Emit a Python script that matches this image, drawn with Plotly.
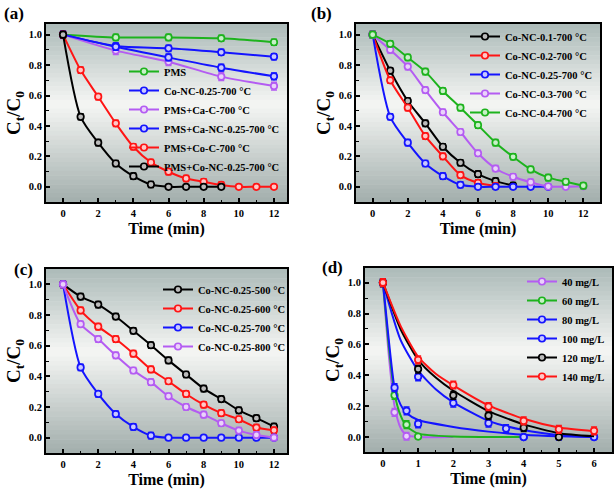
import plotly.graph_objects as go

# ---------------- data ----------------
# (a)
a_x5 = [0, 3, 6, 9, 12]
a_pms = [1.0, 0.982, 0.982, 0.976, 0.95]
a_conc = [1.0, 0.925, 0.91, 0.884, 0.855]
a_cac = [1.0, 0.895, 0.822, 0.724, 0.662]
a_canc = [1.0, 0.92, 0.85, 0.783, 0.726]
a_x13 = [0, 1, 2, 3, 4, 5, 6, 7, 8, 9, 10, 11, 12]
a_coc = [1.0, 0.767, 0.592, 0.417, 0.263, 0.16, 0.099, 0.055, 0.033, 0.012, 0.0, 0.0, 0.0]
a_x10 = [0, 1, 2, 3, 4, 5, 6, 7, 8, 9]
a_pconc = [1.0, 0.46, 0.29, 0.153, 0.07, 0.015, 0.0, 0.0, 0.0, 0.0]
a_names = ["PMS", "Co-NC-0.25-700 °C", "PMS+Ca-C-700 °C", "PMS+Ca-NC-0.25-700 °C",
           "PMS+Co-C-700 °C", "PMS+Co-NC-0.25-700 °C"]

# (b)
b_x = [0, 1, 2, 3, 4, 5, 6, 7, 8, 9, 10, 11, 12]
b_01 = [1.0, 0.763, 0.564, 0.417, 0.263, 0.158, 0.083, 0.037, 0.008]
b_02 = [1.0, 0.70, 0.52, 0.333, 0.20, 0.077, 0.026, 0.005]
b_025 = [1.0, 0.46, 0.29, 0.153, 0.07, 0.013, 0.0, 0.0, 0.0, 0.0, 0.0]
b_03 = [1.0, 0.90, 0.79, 0.636, 0.49, 0.36, 0.22, 0.12, 0.066, 0.03, 0.002, 0.0, 0.003]
b_04 = [1.0, 0.94, 0.85, 0.757, 0.63, 0.52, 0.405, 0.29, 0.197, 0.114, 0.06, 0.033, 0.007]
b_names = ["Co-NC-0.1-700 °C", "Co-NC-0.2-700 °C", "Co-NC-0.25-700 °C",
           "Co-NC-0.3-700 °C", "Co-NC-0.4-700 °C"]

# (c)
c_x = [0, 1, 2, 3, 4, 5, 6, 7, 8, 9, 10, 11, 12]
c_500 = [1.0, 0.92, 0.868, 0.79, 0.697, 0.603, 0.504, 0.412, 0.32, 0.252, 0.178, 0.127, 0.072]
c_600 = [1.0, 0.83, 0.724, 0.643, 0.548, 0.445, 0.368, 0.285, 0.215, 0.16, 0.12, 0.066, 0.048]
c_700 = [1.0, 0.458, 0.285, 0.154, 0.07, 0.013, 0.0, 0.0, 0.0, 0.0, 0.0, 0.0, 0.0]
c_800 = [1.0, 0.74, 0.643, 0.537, 0.438, 0.362, 0.27, 0.20, 0.15, 0.094, 0.046, 0.018, 0.0]
c_names = ["Co-NC-0.25-500 °C", "Co-NC-0.25-600 °C", "Co-NC-0.25-700 °C", "Co-NC-0.25-800 °C"]

# (d) measured points
d40_x = [0, 0.33, 0.67]
d40_y = [1.0, 0.16, 0.005]
d60_x = [0, 0.33, 0.67, 1.0]
d60_y = [1.0, 0.27, 0.08, 0.003]
d80_x = [0, 0.33, 0.67, 1.0, 4, 6]
d80_y = [1.0, 0.32, 0.17, 0.085, 0.0, 0.0]
d100_x = [0, 1, 2, 3, 3.5, 4, 5, 6]
d100_y = [1.0, 0.39, 0.22, 0.09, 0.055, 0.0, 0.005, 0.0]
d120_x = [0, 1, 2, 3, 4, 5]
d120_y = [1.0, 0.44, 0.27, 0.138, 0.06, 0.0]
d140_x = [0, 1, 2, 3, 4, 5, 6]
d140_y = [1.0, 0.50, 0.337, 0.197, 0.104, 0.05, 0.04]
# (d) fitted curves
f40_x = [0, 0.17, 0.33, 0.5, 0.67, 1.0, 2.0]
f40_y = [1.0, 0.52, 0.20, 0.06, 0.012, 0.0, 0.0]
f60_x = [0, 0.17, 0.33, 0.5, 0.67, 1.0, 2.0, 4.0]
f60_y = [1.0, 0.58, 0.28, 0.14, 0.07, 0.022, 0.003, 0.0]
f80_x = [0, 0.17, 0.33, 0.5, 0.67, 1.0, 2.0, 3.0, 4.0, 5.0, 6.0]
f80_y = [1.0, 0.62, 0.32, 0.21, 0.155, 0.11, 0.065, 0.035, 0.015, 0.005, 0.0]
f100_x = [0, 0.5, 1, 1.5, 2, 3, 4, 5, 6]
f100_y = [1.0, 0.63, 0.43, 0.31, 0.225, 0.105, 0.045, 0.012, 0.0]
f120_x = [0, 0.5, 1, 1.5, 2, 3, 4, 5, 6]
f120_y = [1.0, 0.70, 0.50, 0.385, 0.30, 0.168, 0.082, 0.025, 0.005]
f140_x = [0, 0.5, 1, 1.5, 2, 3, 4, 5, 6]
f140_y = [1.0, 0.72, 0.52, 0.41, 0.335, 0.205, 0.118, 0.062, 0.038]
d_names = ["40 mg/L", "60 mg/L", "80 mg/L", "100 mg/L", "120 mg/L", "140 mg/L"]

# ---------------- styles ----------------
GREEN = "#1db31d"
BLUE = "#1414ff"
VIOLET = "#b45cf2"
RED = "#ff1414"
BLACK = "#000000"
FILL = {GREEN: "#c8f0c8", BLUE: "#c8c8ff", VIOLET: "#ead2fb", RED: "#ffc8c8", BLACK: "#bbbbbb"}
FONT = "Liberation Serif"

fig = go.Figure()


def add_series(x, y, name, color, xa, ya, legend, err=0.02, mode="lines+markers",
               showlegend=True):
    errs = [err if v > 0.004 else 0 for v in y]
    fig.add_trace(go.Scatter(
        x=x[:len(y)], y=y, name=name, mode=mode, xaxis=xa, yaxis=ya, legend=legend,
        showlegend=showlegend,
        line=dict(color=color, width=2, shape="spline", smoothing=0.7),
        marker=dict(symbol="circle", size=6.5, color=FILL[color], line=dict(color=color, width=1.7)),
        error_y=dict(type="data", array=errs, visible=True, color=color, thickness=1.5, width=3),
    ))


# (a)
add_series(a_x5, a_pms, a_names[0], GREEN, "x", "y", "legend")
add_series(a_x5, a_conc, a_names[1], BLUE, "x", "y", "legend", err=0.02)
add_series(a_x5, a_cac, a_names[2], VIOLET, "x", "y", "legend", err=0.025)
add_series(a_x5, a_canc, a_names[3], BLUE, "x", "y", "legend", err=0.022)
add_series(a_x13, a_coc, a_names[4], RED, "x", "y", "legend")
add_series(a_x10, a_pconc, a_names[5], BLACK, "x", "y", "legend")

# (b)
for yv, nm, col in zip([b_01, b_02, b_025, b_03, b_04], b_names, [BLACK, RED, BLUE, VIOLET, GREEN]):
    add_series(b_x, yv, nm, col, "x2", "y2", "legend2")

# (c)
for yv, nm, col in zip([c_500, c_600, c_700, c_800], c_names, [BLACK, RED, BLUE, VIOLET]):
    add_series(c_x, yv, nm, col, "x3", "y3", "legend3")

# (d)
d_sets = [(d40_x, d40_y, f40_x, f40_y, VIOLET), (d60_x, d60_y, f60_x, f60_y, GREEN),
          (d80_x, d80_y, f80_x, f80_y, BLUE), (d100_x, d100_y, f100_x, f100_y, BLUE),
          (d120_x, d120_y, f120_x, f120_y, BLACK), (d140_x, d140_y, f140_x, f140_y, RED)]
for (dx, dy, fx, fy, col), nm in zip(d_sets, d_names):
    fig.add_trace(go.Scatter(x=fx, y=fy, mode="lines", xaxis="x4", yaxis="y4", showlegend=False,
                             line=dict(color=col, width=2, shape="spline", smoothing=0.6)))
    add_series(dx, dy, nm, col, "x4", "y4", "legend4", err=0.025, mode="markers", showlegend=False)
    fig.add_trace(go.Scatter(x=[None], y=[None], mode="lines+markers", name=nm,
                             xaxis="x4", yaxis="y4", legend="legend4",
                             line=dict(color=col, width=2),
                             marker=dict(size=6.5, color=FILL[col], line=dict(color=col, width=1.7))))

# ---------------- axes ----------------
tickfont = dict(family=FONT, size=10.5, color="black", weight="bold")


def xax(domain, rng, dtick, mdtick, anchor):
    return dict(domain=domain, range=rng, anchor=anchor, dtick=dtick, tick0=0,
                showline=True, linewidth=2, linecolor="black", mirror=True,
                ticks="inside", ticklen=4, tickwidth=1.5, tickcolor="black",
                showgrid=False, zeroline=False, tickfont=tickfont,
                minor=dict(dtick=mdtick, ticks="inside", ticklen=2.5, tickwidth=1.2,
                           tickcolor="black", showgrid=False),
                title=dict(text="Time (min)", font=dict(family=FONT, size=16, color="black",
                                                       weight="bold"), standoff=5))


def yax(domain, rng, anchor):
    return dict(domain=domain, range=rng, anchor=anchor, dtick=0.2, tick0=0, tickformat=".1f",
                showline=True, linewidth=2, linecolor="black", mirror=True,
                ticks="inside", ticklen=4, tickwidth=1.5, tickcolor="black",
                showgrid=False, zeroline=False, tickfont=tickfont,
                minor=dict(dtick=0.1, ticks="inside", ticklen=2.5, tickwidth=1.2,
                           tickcolor="black", showgrid=False),
                title=dict(text="C<sub>t</sub>/C<sub>0</sub>",
                           font=dict(family=FONT, size=19, color="black", weight="bold"),
                           standoff=3))


W, H = 614, 490
boxes = {  # left, right, top, bottom in px
    "a": (46, 287, 24, 202),
    "b": (356, 600, 24, 202),
    "c": (46, 287, 269, 453),
    "d": (365, 612, 268, 452),
}


def xd(k):
    l, r, t, b = boxes[k]
    return [l / W, r / W]


def yd(k):
    l, r, t, b = boxes[k]
    return [1 - b / H, 1 - t / H]


legfont = dict(family=FONT, size=10.5, color="black", weight="bold")
common_leg = dict(bgcolor="rgba(0,0,0,0)", borderwidth=0, font=legfont, xanchor="left",
                  yanchor="top", tracegroupgap=0, itemwidth=30)

fig.update_layout(
    width=W, height=H, margin=dict(l=0, r=0, t=0, b=0),
    paper_bgcolor="white", plot_bgcolor="rgba(0,0,0,0)",
    xaxis=xax(xd("a"), [-0.97, 12.74], 2, 1, "y"),
    yaxis=yax(yd("a"), [-0.1, 1.07], "x"),
    xaxis2=xax(xd("b"), [-0.95, 12.95], 2, 1, "y2"),
    yaxis2=yax(yd("b"), [-0.1, 1.07], "x2"),
    xaxis3=xax(xd("c"), [-0.97, 12.74], 2, 1, "y3"),
    yaxis3=yax(yd("c"), [-0.1, 1.1], "x3"),
    xaxis4=xax(xd("d"), [-0.51, 6.51], 1, 0.5, "y4"),
    yaxis4=yax(yd("d"), [-0.097, 1.095], "x4"),
    legend=dict(x=124 / W, y=1 - 57 / H, **common_leg),
    legend2=dict(x=465 / W, y=1 - 22 / H, **common_leg),
    legend3=dict(x=158 / W, y=1 - 275 / H, **common_leg),
    legend4=dict(x=522 / W, y=1 - 267 / H, **common_leg),
)

# panel labels
for txt, px, py in [("(a)", 2, 2), ("(b)", 309, 2), ("(c)", 12, 258), ("(d)", 320, 256)]:
    fig.add_annotation(text=txt, xref="paper", yref="paper", x=px / W, y=1 - py / H,
                       xanchor="left", yanchor="top", showarrow=False,
                       font=dict(family=FONT, size=17, color="black", weight="bold"))

# gradient backgrounds
stops = [(0.0, (172, 186, 184)), (0.45, (245, 246, 244)), (1.0, (162, 174, 172))]


def grad(t):
    for (t0, c0), (t1, c1) in zip(stops[:-1], stops[1:]):
        if t0 <= t <= t1:
            f = (t - t0) / (t1 - t0)
            return "rgb(%d,%d,%d)" % tuple(round(a + (b - a) * f) for a, b in zip(c0, c1))
    return "rgb(%d,%d,%d)" % stops[-1][1]


N = 40
for k in boxes:
    x0, x1 = xd(k)
    y0, y1 = yd(k)
    hgt = y1 - y0
    for i in range(N):
        t = (i + 0.5) / N
        fig.add_shape(type="rect", xref="paper", yref="paper",
                      x0=x0, x1=x1, y0=y1 - (i + 1) / N * hgt - 0.001, y1=y1 - i / N * hgt,
                      fillcolor=grad(t), line=dict(width=0), layer="below")

fig.write_html("out.html", config={"displayModeBar": False},
               post_script="document.body.style.margin='0';")
